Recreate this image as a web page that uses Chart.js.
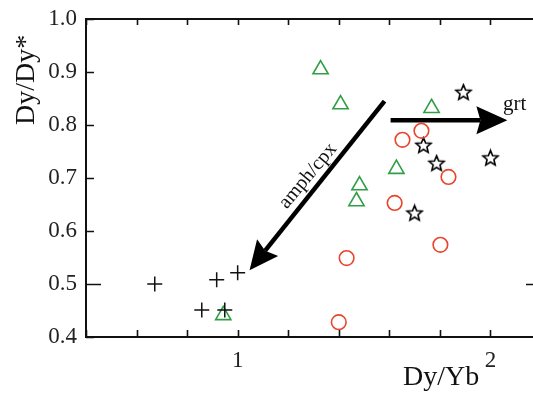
<!DOCTYPE html>
<html>
<head>
<meta charset="utf-8">
<script src="https://cdn.jsdelivr.net/npm/chart.js@4/dist/chart.umd.min.js"></script>
<style>
  html, body { margin: 0; padding: 0; background: #fff; overflow: hidden; width: 533px; height: 394px; }
  #wrap { position: relative; width: 545px; height: 394px; }
</style>
</head>
<body>
<div id="wrap"><canvas id="c" width="545" height="394"></canvas></div>
<script>
// Dy/Dy* versus Dy/Yb
const plusX = [0.672, 0.917, 1.000, 0.858, 0.949];
const plusY = [0.500, 0.508, 0.521, 0.451, 0.451];

const triX = [0.943, 1.328, 1.407, 1.767, 1.628, 1.482, 1.470];
const triY = [0.441, 0.905, 0.839, 0.832, 0.717, 0.686, 0.656];

const circX = [1.652, 1.727, 1.834, 1.621, 1.802, 1.431, 1.400];
const circY = [0.772, 0.789, 0.702, 0.653, 0.574, 0.549, 0.428];

const starX = [1.893, 1.735, 1.787, 2.000, 1.700];
const starY = [0.862, 0.762, 0.728, 0.738, 0.634];

// axis ranges and labelled x ticks
const xRange = [0.4, 2.2];
const yRange = [0.4, 1.0];
const xLabelValues = [1, 2];
const yLongTick = 0.5;

// fractionation trend arrows (data coordinates) and their labels
const arrowAmph = { from: [1.581, 0.845], to: [1.047, 0.526], label: 'amph/cpx' };
const arrowGrt  = { from: [1.605, 0.809], to: [2.067, 0.809], label: 'grt' };

const SERIF = '"Liberation Serif", "Times New Roman", serif';
const GREEN = '#2f9e47';
const RED = '#e8452c';

function pts(xs, ys) { return xs.map((x, i) => ({ x: x, y: ys[i] })); }

// five-pointed open star marker
function makeStar(size) {
  const c = document.createElement('canvas');
  c.width = size; c.height = size;
  const g = c.getContext('2d');
  const cx = size / 2, cy = size / 2 + 0.6, R = size / 2 - 1.5, r = R * 0.45;
  g.beginPath();
  for (let i = 0; i < 10; i++) {
    const a = -Math.PI / 2 + i * Math.PI / 5;
    const rad = i % 2 === 0 ? R : r;
    const px = cx + rad * Math.cos(a), py = cy + rad * Math.sin(a);
    if (i === 0) g.moveTo(px, py); else g.lineTo(px, py);
  }
  g.closePath();
  g.fillStyle = '#fff';
  g.fill();
  g.lineWidth = 1.6;
  g.strokeStyle = '#000';
  g.lineJoin = 'miter';
  g.stroke();
  return c;
}
const starImg = makeStar(19);

function drawArrow(ctx, x1, y1, x2, y2, headLen, headW, lw) {
  const dx = x2 - x1, dy = y2 - y1;
  const len = Math.hypot(dx, dy);
  const ux = dx / len, uy = dy / len;
  const px = -uy, py = ux;
  const bx = x2 - ux * headLen, by = y2 - uy * headLen;
  ctx.save();
  ctx.strokeStyle = '#000';
  ctx.fillStyle = '#000';
  ctx.lineWidth = lw;
  ctx.beginPath();
  ctx.moveTo(x1, y1);
  ctx.lineTo(bx + ux * 4, by + uy * 4);
  ctx.stroke();
  ctx.beginPath();
  ctx.moveTo(x2, y2);
  ctx.lineTo(bx + px * headW / 2, by + py * headW / 2);
  ctx.lineTo(bx + ux * 4, by + uy * 4);
  ctx.lineTo(bx - px * headW / 2, by - py * headW / 2);
  ctx.closePath();
  ctx.fill();
  ctx.restore();
}

const framePlugin = {
  id: 'frame',
  beforeDatasetsDraw(chart) {
    const { ctx, chartArea: a, scales } = chart;
    ctx.save();
    ctx.strokeStyle = '#111';
    ctx.lineWidth = 2;
    ctx.strokeRect(a.left, a.top, a.right - a.left, a.bottom - a.top);
    ctx.lineWidth = 1.6;
    ctx.beginPath();
    // inward ticks on x (bottom and top)
    scales.x.ticks.forEach(t => {
      const px = Math.round(scales.x.getPixelForValue(t.value)) + 0.5;
      ctx.moveTo(px, a.bottom); ctx.lineTo(px, a.bottom - 7);
      ctx.moveTo(px, a.top); ctx.lineTo(px, a.top + 6);
    });
    // inward ticks on y (left and right)
    scales.y.ticks.forEach(t => {
      const py = Math.round(scales.y.getPixelForValue(t.value)) + 0.5;
      const long = Math.abs(t.value - yLongTick) < 1e-6;
      const L = long ? 15 : 8;
      ctx.moveTo(a.left, py); ctx.lineTo(a.left + L, py);
      ctx.moveTo(a.right, py); ctx.lineTo(a.right - L, py);
    });
    ctx.stroke();
    ctx.restore();
  },
  afterDatasetsDraw(chart) {
    const { ctx, scales } = chart;
    const X = v => scales.x.getPixelForValue(v);
    const Y = v => scales.y.getPixelForValue(v);

    drawArrow(ctx, X(arrowAmph.from[0]), Y(arrowAmph.from[1]),
              X(arrowAmph.to[0]), Y(arrowAmph.to[1]), 29, 27, 4.5);
    drawArrow(ctx, X(arrowGrt.from[0]), Y(arrowGrt.from[1]),
              X(arrowGrt.to[0]), Y(arrowGrt.to[1]), 31, 28, 4.5);

    ctx.save();
    ctx.fillStyle = '#111';

    // amph/cpx label along its arrow
    ctx.save();
    ctx.translate(308, 176);
    ctx.rotate(-50 * Math.PI / 180);
    ctx.font = '20px ' + SERIF;
    ctx.textAlign = 'center';
    ctx.textBaseline = 'middle';
    ctx.fillText(arrowAmph.label, 0, 0);
    ctx.restore();

    // grt label
    ctx.font = '21px ' + SERIF;
    ctx.textAlign = 'left';
    ctx.textBaseline = 'alphabetic';
    ctx.fillText(arrowGrt.label, 503, 110);

    // axis titles
    ctx.font = '28px ' + SERIF;
    ctx.fillText('Dy/Yb', 403, 385);
    ctx.save();
    ctx.translate(34, 125);
    ctx.rotate(-Math.PI / 2);
    ctx.fillText('Dy/Dy*', 0, 0);
    ctx.restore();

    ctx.restore();
  }
};

new Chart(document.getElementById('c'), {
  type: 'scatter',
  data: {
    datasets: [
      { data: pts(plusX, plusY), pointStyle: 'cross', pointRadius: 7.5, borderColor: '#111', borderWidth: 1.5, backgroundColor: '#111' },
      { data: pts(triX, triY), pointStyle: 'triangle', pointRadius: 8.8, borderColor: GREEN, borderWidth: 1.6, backgroundColor: 'rgba(0,0,0,0)' },
      { data: pts(circX, circY), pointStyle: 'circle', pointRadius: 7.3, borderColor: RED, borderWidth: 1.6, backgroundColor: 'rgba(0,0,0,0)' },
      { data: pts(starX, starY), pointStyle: starImg, pointRadius: 9, borderColor: '#000', backgroundColor: '#fff' }
    ]
  },
  options: {
    responsive: false,
    devicePixelRatio: 1,
    animation: false,
    clip: false,
    layout: { autoPadding: false, padding: { top: 19, right: 4, left: 0, bottom: 0 } },
    plugins: { legend: { display: false }, tooltip: { enabled: false } },
    scales: {
      x: {
        type: 'linear',
        min: xRange[0], max: xRange[1],
        grid: { display: false, drawTicks: false },
        border: { display: false },
        ticks: {
          stepSize: 0.2,
          padding: 10,
          maxRotation: 0,
          autoSkip: false,
          color: '#222',
          font: { family: SERIF, size: 23 },
          callback: v => {
            const r = Math.round(v);
            return (Math.abs(v - r) < 1e-6 && xLabelValues.includes(r)) ? String(r) : '';
          }
        },
        afterFit: s => { s.height = 57; s.paddingLeft = 0; s.paddingRight = 0; }
      },
      y: {
        type: 'linear',
        min: yRange[0], max: yRange[1],
        grid: { display: false, drawTicks: false },
        border: { display: false },
        ticks: {
          stepSize: 0.1,
          padding: 9,
          color: '#222',
          font: { family: SERIF, size: 23 },
          callback: v => v.toFixed(1)
        },
        afterFit: s => { s.width = 86; s.paddingTop = 0; s.paddingBottom = 0; }
      }
    }
  },
  plugins: [framePlugin]
});
</script>
</body>
</html>
